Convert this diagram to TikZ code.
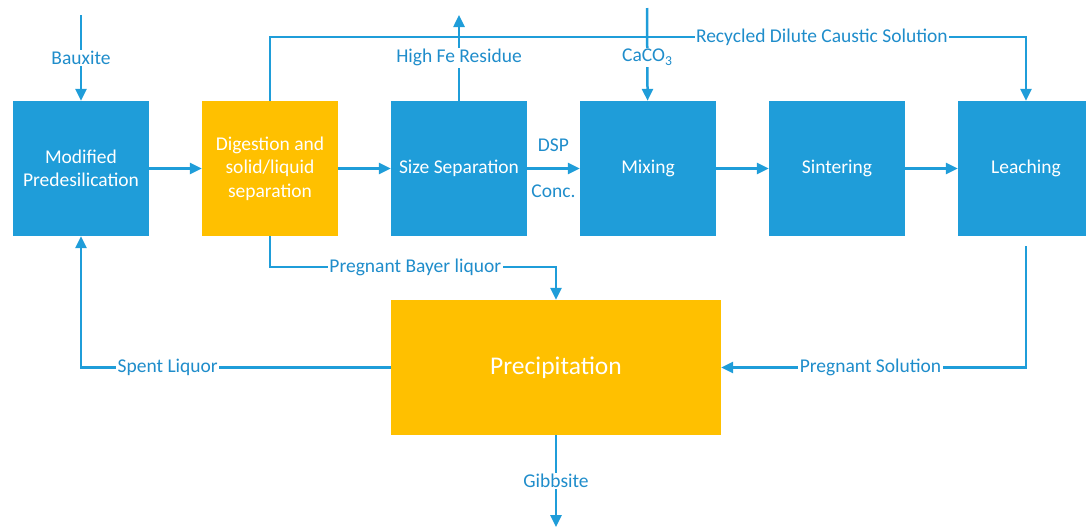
\documentclass[tikz,border=0pt]{standalone}
\usepackage{fontspec}
\setmainfont{Carlito}
\usetikzlibrary{arrows.meta, positioning}
\definecolor{procblue}{HTML}{1F9DD9}
\definecolor{procgold}{HTML}{FFC000}
\definecolor{flowblue}{HTML}{1F9DD9}
\definecolor{tagblue}{HTML}{1F8DCB}

\begin{document}
\begin{tikzpicture}[
  x=1pt, y=-1pt,
  node distance=52.6pt,
  unit/.style={minimum width=136pt, minimum height=135pt, inner sep=2pt, text=white, font=\fontsize{19.5}{23.5}\selectfont, align=center},
  blueunit/.style={unit, fill=procblue},
  goldunit/.style={unit, fill=procgold},
  flow/.style={draw=flowblue, line width=2.5pt, -{Triangle[length=12pt, width=11pt]}},
  tag/.style={fill=white, text=tagblue, inner sep=1.5pt, font=\fontsize{19.5}{23}\selectfont}
]
  \useasboundingbox (0,0) rectangle (1086,531);

  \node[blueunit] (predes) at (81,168.5) {Modified\\Predesilication};
  \node[goldunit, right=of predes] (digest) {Digestion and\\solid/liquid\\separation};
  \node[blueunit, right=of digest] (sizesep) {Size Separation};
  \node[blueunit, right=of sizesep] (mixing) {Mixing};
  \node[blueunit, right=of mixing] (sinter) {Sintering};
  \node[blueunit, right=of sinter] (leach) {Leaching};
  \node[goldunit, minimum width=330pt, font=\fontsize{25.5}{30}\selectfont] (precip) at (556,367.5) {Precipitation};

  \coordinate (bauxin) at (81,15);
  \coordinate (feout) at (459,15);
  \coordinate (cacoin) at (647,8);
  \coordinate (gibbout) at (556,527);

  \draw[flow] (bauxin) -- node[tag] {Bauxite} (predes);
  \draw[flow] (predes) -- (digest);
  \draw[flow] (digest) -- (sizesep);
  \draw[flow] (sizesep) -- node[above=12pt, text=tagblue, font=\fontsize{19.5}{23}\selectfont] {DSP}
    node[below=12pt, text=tagblue, font=\fontsize{19.5}{23}\selectfont] {Conc.} (mixing);
  \draw[flow] (mixing) -- (sinter);
  \draw[flow] (sinter) -- (leach);

  % recycle loop over the top
  \draw[flow] (digest.north) |- node[tag, pos=0.865] {Recycled Dilute Caustic Solution} ([yshift=64pt]leach.north) -- (leach.north);
  \draw[flow] (sizesep) -- node[tag] {High Fe Residue} (feout);
  \draw[flow] (cacoin) -- node[tag, pos=0.53] {CaCO\textsubscript{3}} (mixing);

  % liquor to and from precipitation
  \draw[flow] (digest.south) -- ([yshift=-31pt]digest.south) -| node[tag, pos=0.254] {Pregnant Bayer liquor} (precip.north);
  \draw[flow] (precip.west) -| node[tag, pos=0.36] {Spent Liquor} (predes.south);
  \draw[flow] ([yshift=-10pt]leach.south) |- node[tag, pos=0.755] {Pregnant Solution} (precip.east);
  \draw[flow] (precip) -- node[tag] {Gibbsite} (gibbout);
\end{tikzpicture}
\end{document}
